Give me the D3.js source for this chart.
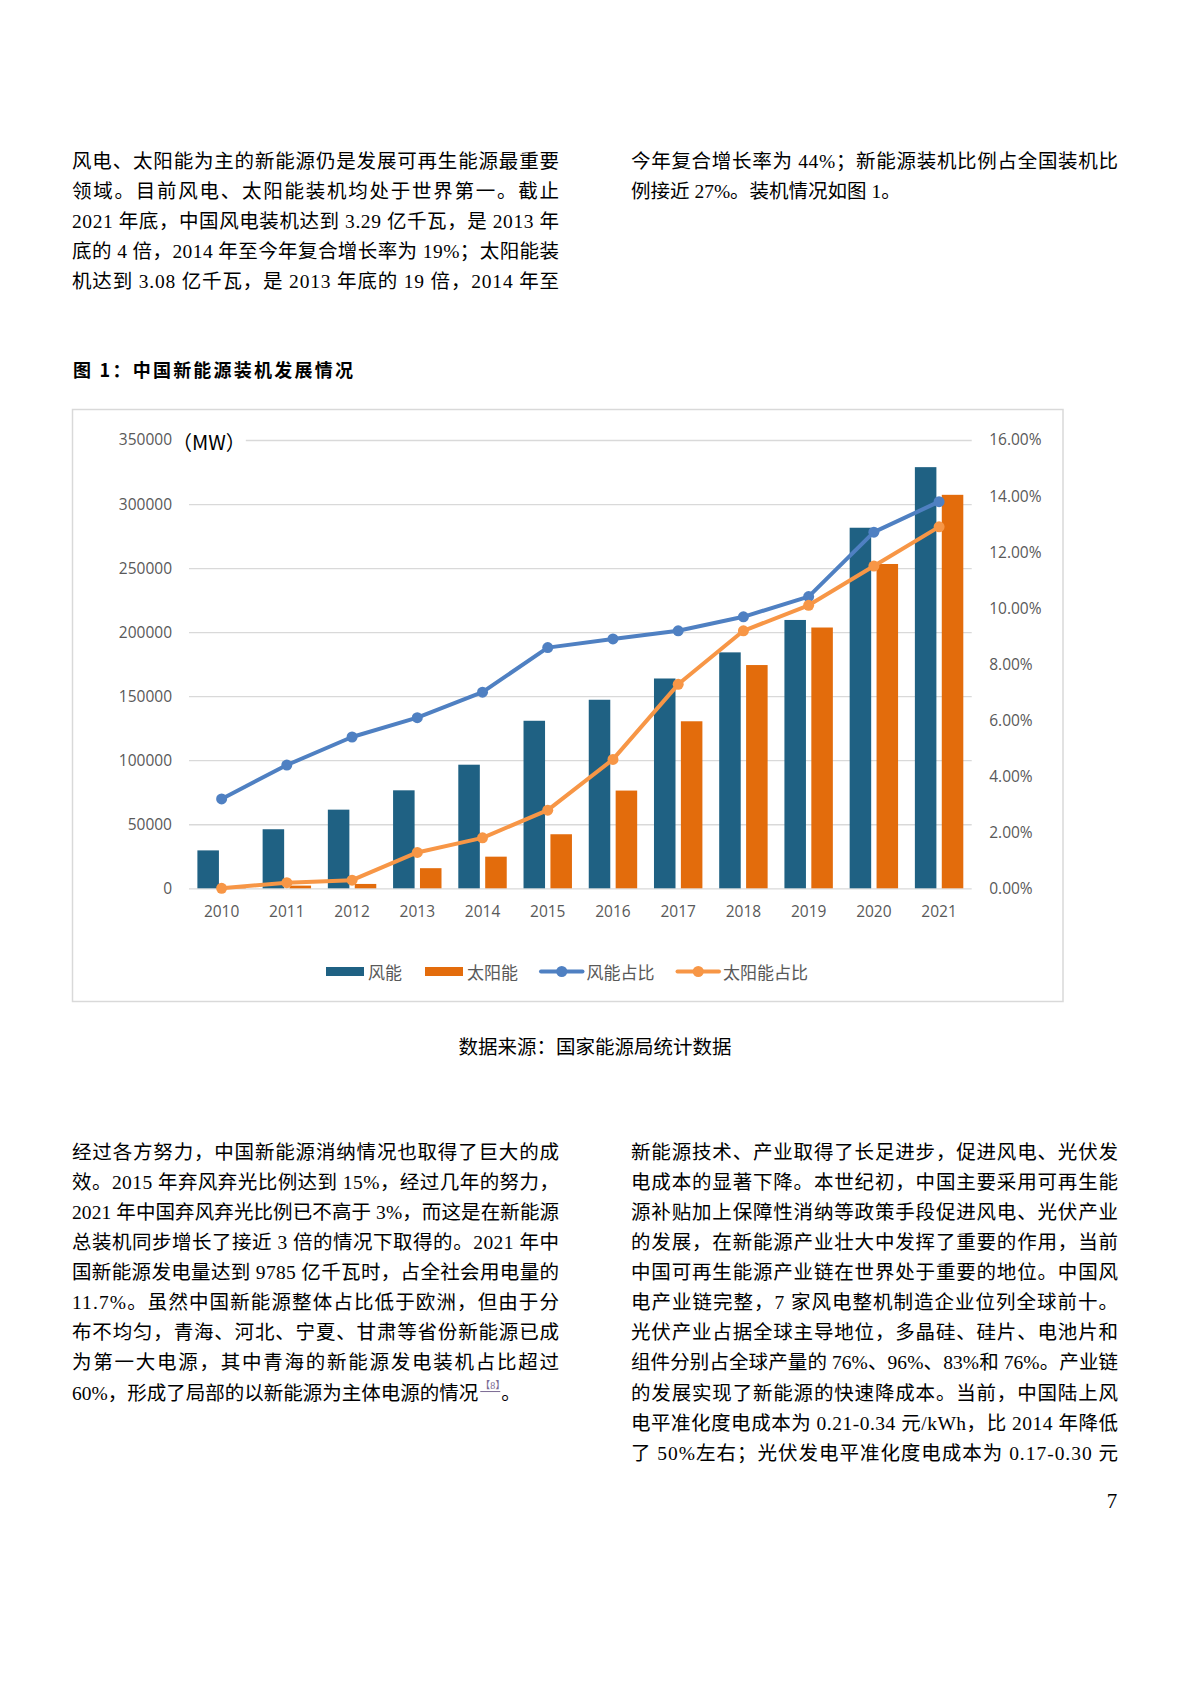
<!DOCTYPE html>
<html><head><meta charset="utf-8">
<script src="https://cdn.jsdelivr.net/npm/d3@7"></script>
<style>html,body{margin:0;padding:0;background:#fff;} svg{display:block;}</style>
</head><body><svg id="page" width="1190" height="1684"></svg>
<script>
// ---------- chart data ----------
const years = ['2010','2011','2012','2013','2014','2015','2016','2017','2018','2019','2020','2021'];
const windMW  = [29600, 46100, 61400, 76500, 96500, 130800, 147200, 163800, 184200, 209500, 281500, 328800];
const solarMW = [860, 2100, 3400, 15700, 24700, 42200, 76300, 130400, 174300, 203600, 253200, 307200];
const windShare  = [3.19, 4.40, 5.40, 6.09, 7.00, 8.59, 8.90, 9.19, 9.69, 10.41, 12.71, 13.80];
const solarShare = [0.00, 0.20, 0.29, 1.28, 1.80, 2.79, 4.60, 7.28, 9.19, 10.10, 11.50, 12.90];
const leftTicks  = [0, 50000, 100000, 150000, 200000, 250000, 300000, 350000];
const rightTicks = [0, 2, 4, 6, 8, 10, 12, 14, 16];
const seriesNames = ['风能', '太阳能', '风能占比', '太阳能占比'];
const unitLabel = '（MW）';
const chartTitle = '图 1：中国新能源装机发展情况';
const sourceNote = '数据来源：国家能源局统计数据';

// ---------- page text ----------
const topLeft = [
  '风电、太阳能为主的新能源仍是发展可再生能源最重要',
  '领域。目前风电、太阳能装机均处于世界第一。截止',
  '2021 年底，中国风电装机达到 3.29 亿千瓦，是 2013 年',
  '底的 4 倍，2014 年至今年复合增长率为 19%；太阳能装',
  '机达到 3.08 亿千瓦，是 2013 年底的 19 倍，2014 年至'
];
const topRight = [
  '今年复合增长率为 44%；新能源装机比例占全国装机比',
  '例接近 27%。装机情况如图 1。'
];
const bottomLeft = [
  '经过各方努力，中国新能源消纳情况也取得了巨大的成',
  '效。2015 年弃风弃光比例达到 15%，经过几年的努力，',
  '2021 年中国弃风弃光比例已不高于 3%，而这是在新能源',
  '总装机同步增长了接近 3 倍的情况下取得的。2021 年中',
  '国新能源发电量达到 9785 亿千瓦时，占全社会用电量的',
  '11.7%。虽然中国新能源整体占比低于欧洲，但由于分',
  '布不均匀，青海、河北、宁夏、甘肃等省份新能源已成',
  '为第一大电源，其中青海的新能源发电装机占比超过',
  '60%，形成了局部的以新能源为主体电源的情况'
];
const citeMark = '【8】';
const bottomRight = [
  '新能源技术、产业取得了长足进步，促进风电、光伏发',
  '电成本的显著下降。本世纪初，中国主要采用可再生能',
  '源补贴加上保障性消纳等政策手段促进风电、光伏产业',
  '的发展，在新能源产业壮大中发挥了重要的作用，当前',
  '中国可再生能源产业链在世界处于重要的地位。中国风',
  '电产业链完整，7 家风电整机制造企业位列全球前十。',
  '光伏产业占据全球主导地位，多晶硅、硅片、电池片和',
  '组件分别占全球产量的 76%、96%、83%和 76%。产业链',
  '的发展实现了新能源的快速降成本。当前，中国陆上风',
  '电平准化度电成本为 0.21-0.34 元/kWh，比 2014 年降低',
  '了 50%左右；光伏发电平准化度电成本为 0.17-0.30 元'
];

const svg = d3.select('#page');
svg.append('rect').attr('width',1190).attr('height',1684).attr('fill','#fff');

const bodyFont = '"Liberation Serif","Noto Sans CJK SC",serif';
const cjkSans = '"Noto Sans CJK SC","Noto Sans",sans-serif';
const chartFont = '"Open Sans","Noto Sans CJK SC",sans-serif';

function para(lines, x, y0, width, lastJustified) {
  return lines.map((t, i) => {
    const el = svg.append('text')
      .attr('x', x).attr('y', y0 + i * 30.07)
      .attr('dominant-baseline', 'central')
      .attr('font-family', bodyFont).attr('font-size', 19.5)
      .attr('fill', '#000').text(t);
    if (i < lines.length - 1 || lastJustified) {
      el.attr('textLength', width).attr('lengthAdjust', 'spacing');
    }
    return el;
  });
}
para(topLeft, 72, 161, 487, true);
para(topRight, 631, 161, 487, false);
const blEls = para(bottomLeft, 72, 1152.5, 487, false);
para(bottomRight, 631, 1152.5, 487, true);
// citation mark + full stop inside the last bottom-left line
{
  const el = blEls[blEls.length - 1];
  el.append('tspan').attr('dx', 2).attr('dy', -8).attr('font-size', 10)
    .attr('fill', '#7b6a93').attr('text-decoration', 'underline').text(citeMark);
  el.append('tspan').attr('dx', 1).attr('dy', 8).text('。');
}

// title
svg.append('text').attr('x', 73).attr('y', 369).attr('dominant-baseline','central')
  .attr('font-family', cjkSans).attr('font-weight', 700).attr('font-size', 18)
  .attr('textLength', 280).attr('lengthAdjust','spacing').text(chartTitle);

// chart frame
svg.append('rect').attr('x', 72.5).attr('y', 409.5).attr('width', 990.5).attr('height', 592)
  .attr('fill', '#fff').attr('stroke', '#d9d9d9').attr('stroke-width', 1.5);

// scales
const X0 = 189, X1 = 971.7, YT = 440, YB = 888.3;
const x = d3.scaleBand().domain(years).range([X0, X1]).padding(0);
const inner = d3.scaleBand().domain(['wind','solar'])
  .range([8.4, x.bandwidth() - 8.4]).paddingInner(0.2);
const yL = d3.scaleLinear().domain([0, 350000]).range([YB, YT]);
const yR = d3.scaleLinear().domain([0, 16]).range([YB, YT]);

// left axis with gridlines
const gL = svg.append('g').attr('transform', `translate(${X0},0)`)
  .call(d3.axisLeft(yL).tickValues(leftTicks).tickFormat(d3.format('d'))
    .tickSizeInner(-(X1 - X0)).tickSizeOuter(0).tickPadding(17));
gL.select('.domain').remove();
gL.selectAll('line').attr('stroke', '#d9d9d9').attr('stroke-width', 1.3);
gL.selectAll('text').attr('font-family', chartFont).attr('font-size', 15.5).attr('fill', '#595959');

// right axis
const gR = svg.append('g').attr('transform', `translate(${X1},0)`)
  .call(d3.axisRight(yR).tickValues(rightTicks).tickFormat(d => d.toFixed(2) + '%')
    .tickSize(0).tickPadding(17.5));
gR.select('.domain').remove();
gR.selectAll('text').attr('font-family', chartFont).attr('font-size', 15.5).attr('fill', '#595959');

// bottom axis
const gB = svg.append('g').attr('transform', `translate(0,${YB})`)
  .call(d3.axisBottom(x).tickSize(0).tickPadding(18));
gB.select('.domain').remove();
gB.selectAll('text').attr('font-family', chartFont).attr('font-size', 15.5).attr('fill', '#595959');

// unit label over top gridline
{
  const t = svg.append('text').attr('x', 172).attr('y', YT + 1).attr('dominant-baseline','central')
    .attr('font-family', cjkSans).attr('font-size', 20).attr('fill', '#000').text(unitLabel);
  const bb = t.node().getBBox();
  svg.insert('rect', () => t.node()).attr('x', bb.x).attr('y', YT - 3)
    .attr('width', bb.width).attr('height', 6).attr('fill', '#fff');
}

const colors = { wind: '#1f6183', solar: '#e36c0c', windLine: '#4f80c2', solarLine: '#f79646' };

// bars
const barData = years.map((yr, i) => ({ yr, wind: windMW[i], solar: solarMW[i] }));
const grp = svg.append('g').selectAll('g').data(barData).join('g')
  .attr('transform', d => `translate(${x(d.yr)},0)`);
grp.selectAll('rect').data(d => [{k:'wind', v:d.wind}, {k:'solar', v:d.solar}]).join('rect')
  .attr('x', d => inner(d.k)).attr('width', inner.bandwidth())
  .attr('y', d => yL(d.v)).attr('height', d => YB - yL(d.v))
  .attr('fill', d => colors[d.k]);

// lines
const cx = yr => x(yr) + x.bandwidth() / 2;
function drawLine(vals, col) {
  const pts = years.map((yr, i) => [cx(yr), yR(vals[i])]);
  svg.append('path').datum(pts).attr('d', d3.line())
    .attr('fill', 'none').attr('stroke', col).attr('stroke-width', 4)
    .attr('stroke-linejoin', 'round').attr('stroke-linecap', 'round');
  svg.append('g').selectAll('circle').data(pts).join('circle')
    .attr('cx', d => d[0]).attr('cy', d => d[1]).attr('r', 5.5).attr('fill', col);
}
drawLine(windShare, colors.windLine);
drawLine(solarShare, colors.solarLine);

// legend
{
  const items = [
    {name: seriesNames[0], type: 'rect', col: colors.wind, w: 38},
    {name: seriesNames[1], type: 'rect', col: colors.solar, w: 38},
    {name: seriesNames[2], type: 'line', col: colors.windLine, w: 41.5},
    {name: seriesNames[3], type: 'line', col: colors.solarLine, w: 41.5}
  ];
  const ly = 971.5;
  let lx = 326;
  const lg = svg.append('g');
  items.forEach(it => {
    if (it.type === 'rect') {
      lg.append('rect').attr('x', lx).attr('y', ly - 4.5).attr('width', it.w).attr('height', 9).attr('fill', it.col);
    } else {
      lg.append('line').attr('x1', lx).attr('x2', lx + it.w).attr('y1', ly).attr('y2', ly)
        .attr('stroke', it.col).attr('stroke-width', 4).attr('stroke-linecap','round');
      lg.append('circle').attr('cx', lx + it.w / 2).attr('cy', ly).attr('r', 5.5).attr('fill', it.col);
    }
    const t = lg.append('text').attr('x', lx + it.w + 4).attr('y', ly).attr('dominant-baseline', 'central')
      .attr('font-family', cjkSans).attr('font-size', 17).attr('fill', '#595959').text(it.name);
    lx += it.w + 4 + t.node().getComputedTextLength() + 23;
  });
}

// source note
svg.append('text').attr('x', 595).attr('y', 1045).attr('text-anchor', 'middle').attr('dominant-baseline','central')
  .attr('font-family', cjkSans).attr('font-size', 19.5).attr('fill', '#000').text(sourceNote);

// page number
svg.append('text').attr('x', 1112).attr('y', 1501).attr('text-anchor', 'middle').attr('dominant-baseline','central')
  .attr('font-family', bodyFont).attr('font-size', 21).attr('fill', '#000').text('7');
</script></body></html>
